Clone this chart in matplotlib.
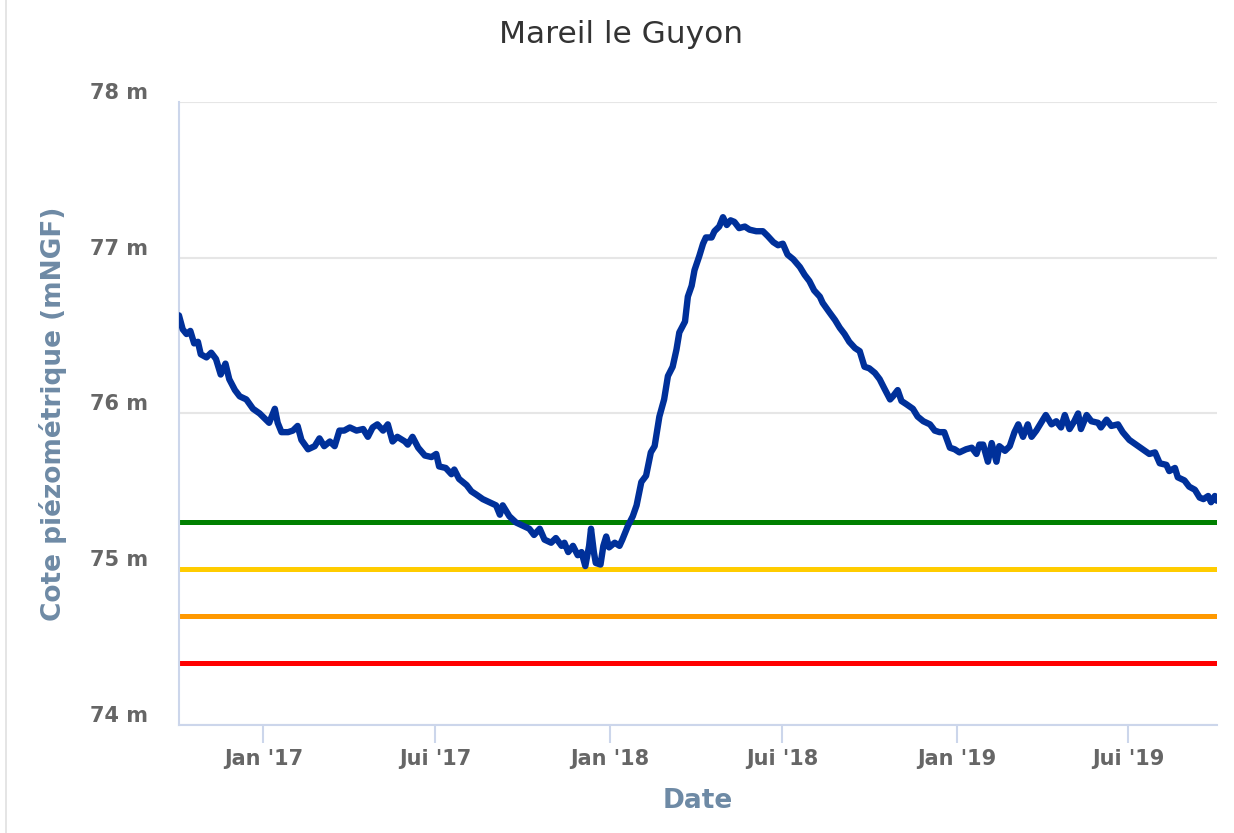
import numpy as np
import pandas as pd
import matplotlib
matplotlib.use("Agg")
import matplotlib.pyplot as plt
import matplotlib.transforms as mtransforms
from matplotlib.lines import Line2D

# === Données ===
# jours comptés depuis le 1er janvier 2017
jours = [
    -89, -85, -81, -77, -73, -69, -66, -60, -55, -50,
    -45, -40, -36, -30, -25, -18, -11, -4, 1, 6,
    12, 15, 19, 26, 31, 36, 40, 47, 54, 59,
    64, 70, 75, 80, 85, 91, 98, 105, 110, 115,
    120, 126, 131, 136, 141, 149, 152, 157, 163, 170,
    177, 182, 185, 192, 198, 201, 206, 214, 219, 224,
    231, 238, 245, 249, 252, 259, 266, 273, 280, 285,
    291, 296, 303, 308, 314, 317, 321, 326, 331, 335,
    339, 343, 345, 348, 350, 355, 358, 361, 364, 370,
    375, 378, 382, 384, 389, 393, 398, 403, 408, 412,
    417, 422, 426, 431, 435, 438, 444, 447, 451, 454,
    459, 463, 466, 472,
    475, 480, 484, 488, 492, 496, 501, 507, 512, 519,
    526, 531, 537, 542, 547, 552, 558, 565, 570, 575,
    580, 586, 589, 596, 602, 607, 612, 617, 623, 628,
    633, 638, 644, 649, 654, 660, 663, 668, 672, 677,
    684, 689, 695, 702, 707, 712, 717, 723, 728, 733,
    740, 746, 751, 754, 758, 763, 767, 772, 775, 781,
    786, 791, 795, 800, 805, 809, 814, 819, 824, 830,
    835, 840, 844, 849, 854, 858, 861, 867, 872, 879,
    882, 888, 893, 900, 905, 912, 919, 926, 933, 939,
    944, 951, 954, 960, 963, 970, 975, 981, 986, 990,
    995, 998, 1002, 1004,
]
cote = [
    76.63, 76.54, 76.51, 76.53, 76.45, 76.46, 76.38, 76.36, 76.39, 76.35,
    76.25, 76.32, 76.22, 76.15, 76.11, 76.09, 76.03, 76.00, 75.97, 75.94,
    76.03, 75.94, 75.88, 75.88, 75.89, 75.92, 75.83, 75.77, 75.79, 75.84,
    75.79, 75.82, 75.79, 75.89, 75.89, 75.91, 75.89, 75.90, 75.85, 75.91,
    75.93, 75.89, 75.93, 75.82, 75.85, 75.82, 75.80, 75.85, 75.78, 75.73,
    75.72, 75.74, 75.66, 75.65, 75.61, 75.64, 75.58, 75.54, 75.50, 75.48,
    75.45, 75.43, 75.41, 75.35, 75.41, 75.34, 75.30, 75.28, 75.26, 75.22,
    75.26, 75.19, 75.17, 75.20, 75.15, 75.17, 75.11, 75.15, 75.09, 75.11,
    75.02, 75.15, 75.26, 75.11, 75.04, 75.03, 75.15, 75.21, 75.14, 75.17,
    75.15, 75.19, 75.25, 75.28, 75.34, 75.41, 75.56, 75.60, 75.75, 75.79,
    75.98, 76.09, 76.24, 76.30, 76.41, 76.52, 76.59, 76.75, 76.82, 76.92,
    77.01, 77.09, 77.13, 77.13,
    77.17, 77.20, 77.26, 77.21, 77.24, 77.23, 77.19, 77.20, 77.18, 77.17,
    77.17, 77.14, 77.10, 77.08, 77.09, 77.02, 76.99, 76.94, 76.89, 76.85,
    76.79, 76.75, 76.71, 76.65, 76.60, 76.55, 76.51, 76.46, 76.42, 76.40,
    76.30, 76.29, 76.26, 76.22, 76.16, 76.09, 76.11, 76.15, 76.08, 76.06,
    76.03, 75.98, 75.95, 75.93, 75.89, 75.88, 75.88, 75.78, 75.77, 75.75,
    75.77, 75.78, 75.74, 75.80, 75.80, 75.69, 75.81, 75.69, 75.79, 75.76,
    75.79, 75.88, 75.93, 75.85, 75.93, 75.85, 75.89, 75.94, 75.99, 75.93,
    75.95, 75.91, 75.99, 75.90, 75.95, 76.00, 75.90, 75.99, 75.95, 75.94,
    75.91, 75.96, 75.92, 75.93, 75.88, 75.83, 75.80, 75.77, 75.74, 75.75,
    75.68, 75.67, 75.63, 75.65, 75.59, 75.57, 75.53, 75.51, 75.46, 75.45,
    75.47, 75.43, 75.47, 75.44,
]

# seuils (vigilance, alerte, alerte renforcée, crise)
seuils = [75.30, 75.00, 74.70, 74.40]
couleurs_seuils = ['#008000', '#ffcc00', '#ff9900', '#ff0000']

df = pd.DataFrame({'Date': pd.Timestamp('2017-01-01') + pd.to_timedelta(jours, unit='D'),
                   'Cote': cote})

# === Figure ===
fig = plt.figure(figsize=(12.34, 8.33), dpi=100)
ax = fig.add_axes([0.145, 0.1297, 0.841, 0.7479])

for s, c in zip(seuils, couleurs_seuils):
    ax.axhline(s, color=c, lw=3.6, zorder=2)

ax.plot(df['Date'], df['Cote'], color='#00309a', lw=4.6, zorder=3,
        solid_joinstyle='round', solid_capstyle='round')

ax.set_xlim(df['Date'].iloc[0], df['Date'].iloc[-1])
ax.set_ylim(74, 78)

# axe y
ax.set_yticks([74, 75, 76, 77, 78])
ax.set_yticklabels(['74 m', '75 m', '76 m', '77 m', '78 m'])
ax.grid(axis='y', color='#e6e6e6', lw=1.5, zorder=0)
ax.tick_params(axis='y', length=0, pad=22, labelsize=15, labelcolor='#666666')
decal = mtransforms.ScaledTranslation(0, 0.11, fig.dpi_scale_trans)
for lab in ax.get_yticklabels():
    lab.set_fontweight('bold')
    lab.set_transform(lab.get_transform() + decal)

# axe x
ticks_x = pd.to_datetime(['2017-01-01', '2017-07-01', '2018-01-01',
                          '2018-07-01', '2019-01-01', '2019-07-01'])
ax.set_xticks(ticks_x)
ax.set_xticklabels(["Jan '17", "Jui '17", "Jan '18", "Jui '18", "Jan '19", "Jui '19"])
ax.tick_params(axis='x', length=13, width=1.5, color='#ccd6eb', pad=4,
               labelsize=15, labelcolor='#666666')
for lab in ax.get_xticklabels():
    lab.set_fontweight('bold')

for cote_ax in ['top', 'right']:
    ax.spines[cote_ax].set_visible(False)
for cote_ax in ['left', 'bottom']:
    ax.spines[cote_ax].set_color('#ccd6eb')
    ax.spines[cote_ax].set_linewidth(1.5)

ax.set_xlabel('Date', fontsize=19, fontweight='bold', color='#6e8aa5', labelpad=14)
ax.set_ylabel('Cote piézométrique (mNGF)', fontsize=19, fontweight='bold',
              color='#6e8aa5', labelpad=17)

fig.text(0.503, 0.958, 'Mareil le Guyon', ha='center', va='center',
         fontsize=22.5, color='#333333')

fig.add_artist(Line2D([0.005, 0.005], [0, 1], color='#e0e0e0', lw=1.2,
                      transform=fig.transFigure))

plt.savefig('out.png', dpi=100)
